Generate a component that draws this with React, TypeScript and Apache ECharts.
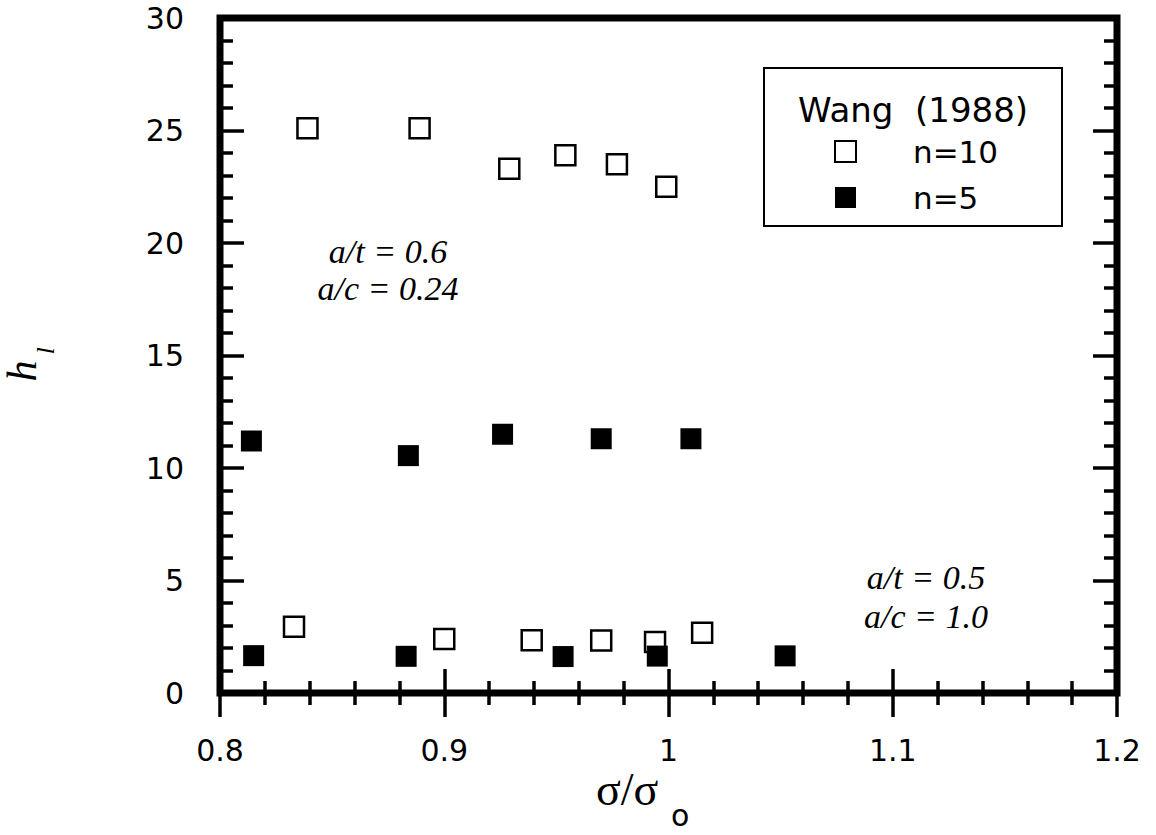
import React, { useEffect, useRef } from 'react';
import * as echarts from 'echarts';

const xTickLabels = ['0.8', '0.9', '1', '1.1', '1.2'];
const yTickLabels = ['0', '5', '10', '15', '20', '25', '30'];

// n = 10 (open squares)
const n10X = [0.839, 0.889, 0.929, 0.954, 0.977, 0.999, 0.833, 0.900, 0.939, 0.970, 0.994, 1.015];
const n10Y = [25.1, 25.1, 23.3, 23.9, 23.5, 22.5, 2.95, 2.4, 2.35, 2.33, 2.27, 2.68];

// n = 5 (filled squares)
const n5X = [0.814, 0.884, 0.926, 0.970, 1.010, 0.815, 0.883, 0.953, 0.995, 1.052];
const n5Y = [11.2, 10.55, 11.5, 11.3, 11.3, 1.66, 1.63, 1.62, 1.64, 1.65];

const seriesNames = ['n=10', 'n=5'];
const legendTitle = 'Wang  (1988)';
const noteUpper = ['a/t = 0.6', 'a/c = 0.24'];
const noteLower = ['a/t = 0.5', 'a/c = 1.0'];

export default function App() {
  const ref = useRef<HTMLDivElement>(null);
  useEffect(() => {
    const chart = echarts.init(ref.current!, null, { renderer: 'svg' });
    const tickStyle = { color: '#000', width: 3.5 };
    const sans = 'DejaVu Sans';
    const serif = 'Liberation Serif';
    const xAxisBase = (pos: string, showLabel: boolean) => ({
      type: 'value',
      position: pos,
      min: 0.8,
      max: 1.2,
      interval: 0.1,
      axisLine: { show: false },
      axisTick: { show: true, inside: true, length: 24, lineStyle: tickStyle },
      minorTick: { show: true, splitNumber: 5, length: 12, lineStyle: tickStyle },
      splitLine: { show: false },
      minorSplitLine: { show: false },
      axisLabel: {
        show: showLabel,
        margin: 42,
        fontFamily: sans,
        fontSize: 30,
        color: '#000',
        formatter: (_v: number, i: number) => xTickLabels[i],
      },
    });
    const yAxisBase = (pos: string, showLabel: boolean) => ({
      type: 'value',
      position: pos,
      min: 0,
      max: 30,
      interval: 5,
      axisLine: { show: false },
      axisTick: { show: true, inside: true, length: 24, lineStyle: tickStyle },
      minorTick: { show: true, splitNumber: 5, length: 13, lineStyle: tickStyle },
      splitLine: { show: false },
      minorSplitLine: { show: false },
      axisLabel: {
        show: showLabel,
        margin: 36,
        fontFamily: sans,
        fontSize: 30,
        color: '#000',
        formatter: (_v: number, i: number) => yTickLabels[i],
      },
    });
    chart.setOption({
      animation: false,
      grid: {
        left: 220,
        top: 18,
        width: 897,
        height: 675,
        show: true,
        borderColor: '#000',
        borderWidth: 7,
        backgroundColor: 'transparent',
      },
      xAxis: [xAxisBase('bottom', true), xAxisBase('top', false)],
      yAxis: [yAxisBase('left', true), yAxisBase('right', false)],
      legend: {
        orient: 'vertical',
        left: 834,
        top: 136,
        padding: 0,
        itemWidth: 21,
        itemHeight: 21,
        itemGap: 15,
        textStyle: { fontFamily: sans, fontSize: 31, color: '#000', padding: [0, 0, 0, 52] },
        data: [
          { name: seriesNames[0], icon: 'rect' },
          { name: seriesNames[1], icon: 'rect' },
        ],
      },
      graphic: [
        {
          type: 'rect',
          shape: { x: 764, y: 68, width: 298, height: 158 },
          style: { fill: 'none', stroke: '#000', lineWidth: 2 },
          z: 10,
        },
        {
          type: 'text',
          x: 798,
          y: 110,
          style: { text: legendTitle, font: `34px "${sans}"`, fill: '#000', textAlign: 'left', textVerticalAlign: 'middle' },
          z: 10,
        },
        {
          type: 'text', x: 388, y: 251,
          style: { text: noteUpper[0], font: `italic 34px "${serif}"`, fill: '#000', textAlign: 'center', textVerticalAlign: 'middle' },
        },
        {
          type: 'text', x: 388, y: 288,
          style: { text: noteUpper[1], font: `italic 34px "${serif}"`, fill: '#000', textAlign: 'center', textVerticalAlign: 'middle' },
        },
        {
          type: 'text', x: 926, y: 577,
          style: { text: noteLower[0], font: `italic 34px "${serif}"`, fill: '#000', textAlign: 'center', textVerticalAlign: 'middle' },
        },
        {
          type: 'text', x: 926, y: 616,
          style: { text: noteLower[1], font: `italic 34px "${serif}"`, fill: '#000', textAlign: 'center', textVerticalAlign: 'middle' },
        },
        {
          type: 'text', x: 596, y: 789,
          style: { text: 'σ/σ', font: `46px "${serif}"`, fill: '#000', textAlign: 'left', textVerticalAlign: 'middle' },
        },
        {
          type: 'text', x: 671, y: 815,
          style: { text: 'o', font: `30px "${sans}"`, fill: '#000', textAlign: 'left', textVerticalAlign: 'middle' },
        },
        {
          type: 'text', x: 22, y: 371, rotation: Math.PI / 2,
          style: { text: 'h', font: `italic 42px "${serif}"`, fill: '#000', textAlign: 'center', textVerticalAlign: 'middle' },
        },
        {
          type: 'text', x: 45, y: 351, rotation: Math.PI / 2,
          style: { text: 'l', font: `italic 26px "${serif}"`, fill: '#000', textAlign: 'center', textVerticalAlign: 'middle' },
        },
      ],
      series: [
        {
          type: 'scatter',
          name: seriesNames[0],
          symbol: 'rect',
          symbolSize: 20,
          itemStyle: { color: '#fff', borderColor: '#000', borderWidth: 2.5, opacity: 1 },
          data: n10X.map((x, i) => [x, n10Y[i]]),
          z: 3,
        },
        {
          type: 'scatter',
          name: seriesNames[1],
          symbol: 'rect',
          symbolSize: 21,
          itemStyle: { color: '#000', opacity: 1 },
          data: n5X.map((x, i) => [x, n5Y[i]]),
          z: 4,
        },
      ],
    });
    return () => chart.dispose();
  }, []);
  return <div ref={ref} style={{ position: 'absolute', left: 0, top: 0, width: 1156, height: 835 }} />;
}
